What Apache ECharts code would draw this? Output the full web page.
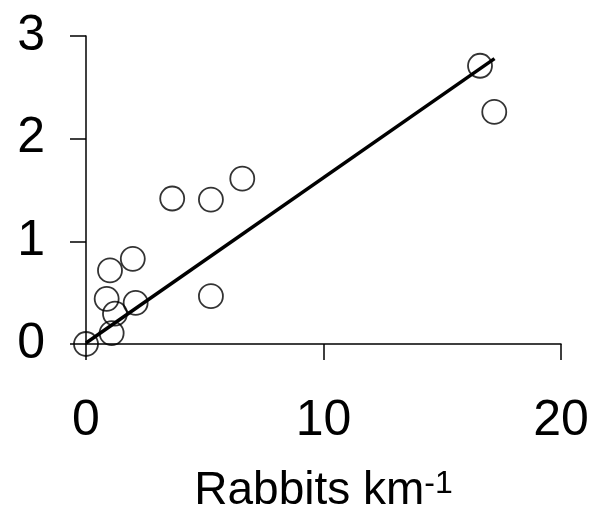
<!DOCTYPE html>
<html>
<head>
<meta charset="utf-8">
<script src="https://cdn.jsdelivr.net/npm/echarts@6/dist/echarts.min.js"></script>
<style>
  html, body { margin: 0; padding: 0; background: #fff; }
  #chart { width: 592px; height: 514px; }
</style>
</head>
<body>
<div id="chart"></div>
<script>
  // rabbits per km (x) vs response (y)
  const rabbits = [0, 1.08, 1.22, 0.87, 2.09, 1.01, 1.97, 3.63, 5.26, 6.58, 5.26, 16.59, 17.19];
  const response = [0, 0.105, 0.295, 0.44, 0.40, 0.717, 0.83, 1.417, 1.407, 1.61, 0.466, 2.71, 2.26];

  // fitted line end points
  const fitX = [0, 17.2];
  const fitY = [0.01, 2.78];

  const xTicks = [0, 10, 20];
  const yTicks = [0, 1, 2, 3];

  const font = "'Liberation Sans', Arial, Helvetica, sans-serif";

  const points = rabbits.map((x, i) => [x, response[i]]);
  const fit = fitX.map((x, i) => [x, fitY[i]]);

  const axisCommon = {
    type: 'value',
    splitLine: { show: false },
    axisLine: { show: true, lineStyle: { color: '#000', width: 1.5 } },
    axisTick: { show: true, inside: false, length: 16, lineStyle: { color: '#000', width: 1.5 } },
    axisLabel: { color: '#000', fontFamily: font, fontSize: 50 }
  };

  const chart = echarts.init(document.getElementById('chart'));
  chart.setOption({
    animation: false,
    backgroundColor: '#fff',
    grid: { left: 86, right: 31, top: 36, bottom: 170, containLabel: false, outerBoundsMode: 'none' },
    xAxis: Object.assign({}, axisCommon, {
      min: xTicks[0],
      max: xTicks[xTicks.length - 1],
      interval: 10,
      axisLabel: Object.assign({}, axisCommon.axisLabel, { margin: 52 }),
      name: '{a|Rabbits km}{s|-1}',
      nameLocation: 'middle',
      nameGap: 124,
      nameTextStyle: {
        rich: {
          a: { fontFamily: font, fontSize: 46, color: '#000', verticalAlign: 'top', lineHeight: 46 },
          s: { fontFamily: font, fontSize: 32, color: '#000', verticalAlign: 'top', lineHeight: 32 }
        }
      }
    }),
    yAxis: Object.assign({}, axisCommon, {
      min: yTicks[0],
      max: yTicks[yTicks.length - 1],
      interval: 1,
      axisLabel: Object.assign({}, axisCommon.axisLabel, { margin: 41 })
    }),
    series: [
      {
        type: 'line',
        data: fit,
        symbol: 'none',
        clip: false,
        lineStyle: { color: '#000', width: 3.5 },
        z: 2
      },
      {
        type: 'scatter',
        data: points,
        symbol: 'circle',
        symbolSize: 24,
        clip: false,
        itemStyle: { color: 'transparent', borderColor: '#000', borderWidth: 1.8 },
        z: 3
      }
    ]
  });
</script>
</body>
</html>
